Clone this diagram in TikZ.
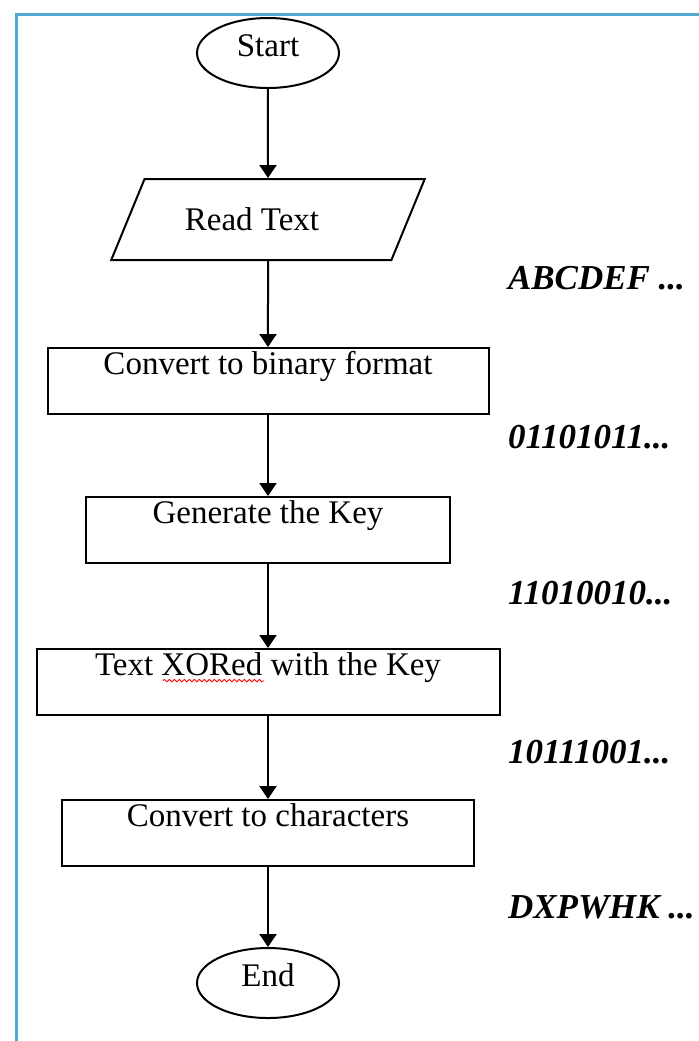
\documentclass[tikz,border=0pt]{standalone}
\usepackage{fontspec}
\setmainfont{Liberation Serif}
\usetikzlibrary{arrows.meta,positioning,shapes.geometric}
\usetikzlibrary{decorations.pathmorphing}
\definecolor{framecyan}{RGB}{80,170,210}
\tikzset{
flow/.style={>={Triangle[width=8.5pt,length=6.5pt]},line width=1pt,
    node distance=43pt,x=0.5pt,y=-0.5pt},
terminal/.style={ellipse,draw,minimum width=71pt,minimum height=35pt,
    inner sep=0pt,text height=12pt,text depth=9pt,
    font=\fontsize{16.5}{19}\selectfont},
io/.style={trapezium,draw,trapezium left angle=46,trapezium right angle=134,
    trapezium stretches=true,minimum width=157pt,minimum height=40.5pt,
    inner sep=0pt,font=\fontsize{16.5}{19}\selectfont},
process/.style={rectangle,draw,minimum width=#1,inner xsep=2pt,inner ysep=0pt,
    text height=13pt,text depth=20pt,font=\fontsize{16.5}{19}\selectfont},
process/.default={200pt},
data/.style={anchor=west,inner sep=0pt,
    font=\bfseries\itshape\fontsize{17.5}{20}\selectfont},
spelling/.style={red,line width=0.4pt,decorate,
    decoration={snake,amplitude=0.6pt,segment length=2.5pt}},
}

\begin{document}
\begin{tikzpicture}[flow]
    \useasboundingbox (0,0) rectangle (698,1041);
    \draw[framecyan,line width=1.5pt] (16,1050) |- (710,14);

    \node[terminal] (start) at (268,53) {Start};
    \node[io] (read) [below=44.5pt of start] {Read Text\hspace*{16pt}};
    \node[process=220.5pt] (binary) [below=43pt of read] {Convert to binary format};
    \node[process=182pt] (key) [below=40.5pt of binary] {Generate the Key};
    \node[process=231.5pt] (xor) [below=42pt of key] {Text XORed with the Key};
    \node[process=206pt] (chars) [below=41.5pt of xor] {Convert to characters};
    \node[terminal] (stop) [below=40pt of chars] {End};

    % wavy mark under XORed
    \draw[spelling] ([xshift=-52.6pt,yshift=-2.8pt]xor.base)
        -- ([xshift=-2.2pt,yshift=-2.8pt]xor.base);

    \node[data] (lbltext) at (507,278) {ABCDEF ...};
    \node[data] (lblbin) at (507,437) {01101011...};
    \node[data] (lblkey) at (507,593) {11010010...};
    \node[data] (lblxor) at (507,752) {10111001...};
    \node[data] (lblchars) at (507,907) {DXPWHK ...};

    \path[->]
        (start) edge (read)
        (read) edge (binary)
        (binary) edge (key)
        (key) edge (xor)
        (xor) edge (chars)
        (chars) edge (stop)
    ;
\end{tikzpicture}
\end{document}
